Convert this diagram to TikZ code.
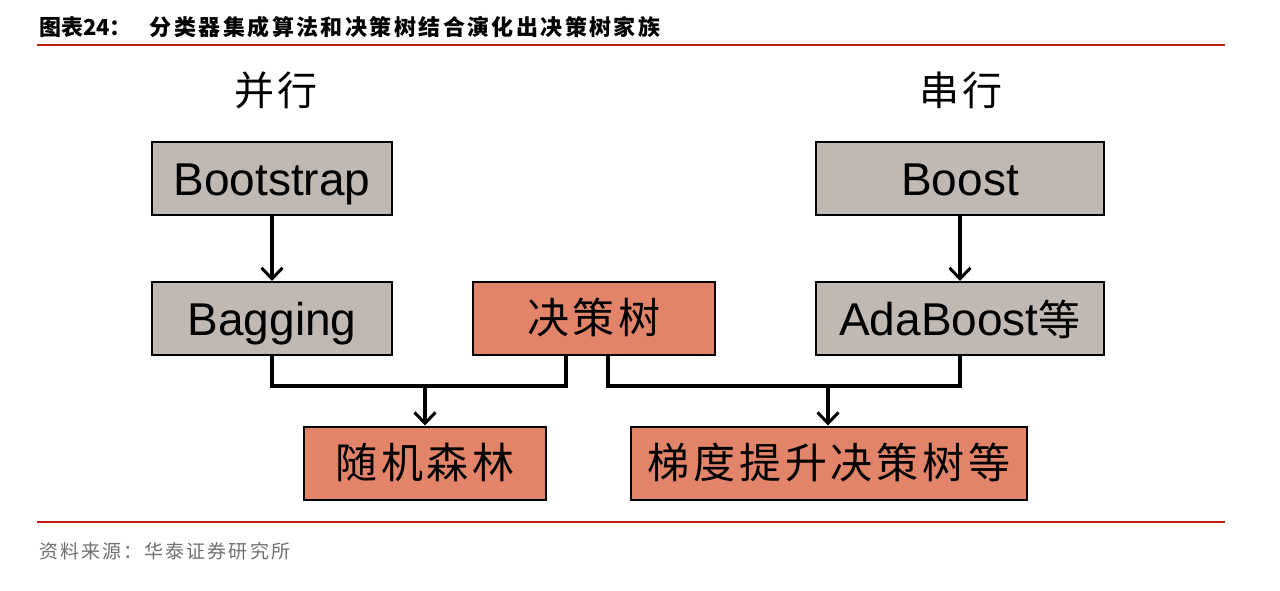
\documentclass[tikz,border=0pt]{standalone}
\usepackage{fontspec}
\setmainfont{Liberation Sans}
\newfontfamily\cjk{Noto Sans CJK SC}
\newfontfamily\cjkwide[LetterSpace=9]{Noto Sans CJK SC}
\newfontfamily\cjktitle[LetterSpace=11]{Noto Sans CJK SC}
\usetikzlibrary{arrows.meta}
\definecolor{boxgray}{HTML}{BFB8B3}
\definecolor{boxorange}{HTML}{E1846A}
\definecolor{rulered}{HTML}{C0200F}
\definecolor{srcgray}{HTML}{707070}
\tikzset{
  x=1pt, y=-1pt,
  box/.style={draw=black, line width=2pt, minimum width=#1, minimum height=73pt,
    inner sep=0pt, font=\fontsize{46}{50}\selectfont, text height=33pt, text depth=0pt},
  graybox/.style={box=#1, fill=boxgray},
  orangebox/.style={box=#1, fill=boxorange},
  cjkbox/.style={font=\cjkwide\fontsize{42}{46}\selectfont, text height=32pt, text depth=2pt},
  link/.style={line width=3.2pt, black},
  arr/.style={link, -{Straight Barb[length=11pt, width=21pt, line width=3pt]}},
  head/.style={font=\cjkwide\fontsize{40}{44}\selectfont},
  redrule/.style={rulered, line width=1.6pt},
}
\begin{document}
\begin{tikzpicture}
\useasboundingbox (0,0) rectangle (1280,590);
\fill[white] (0,0) rectangle (1280,590);

% title and rules
\node[anchor=west, inner sep=0pt, font=\cjk\bfseries\fontsize{22}{25}\selectfont] (title) at (39,27)
  {图表24：\hspace{18pt}{\cjktitle 分类器集成算法和决策树结合演化出决策树家族}};
\draw[redrule] (37,45) -- (1225,45);
\draw[redrule] (37,522) -- (1225,522);
\node[anchor=west, inner sep=0pt, text=srcgray, font=\cjktitle\fontsize{19}{22}\selectfont] (source) at (39,551)
  {资料来源：华泰证券研究所};

% column headings
\node[head] (par) at (276,90) {并行};
\node[head] (ser) at (961,90) {串行};

% boxes
\node[graybox=240pt] (bootstrap) at (272,178.5) {Bootstrap};
\node[graybox=240pt] (bagging) at (272,318.5) {Bagging};
\node[orangebox=242pt, cjkbox] (tree) at (594,318.5) {决策树};
\node[graybox=288pt] (boost) at (960,178.5) {Boost};
\node[graybox=288pt] (ada) at (960,318.5) {AdaBoost{\cjk\fontsize{42}{46}\selectfont 等}};
\node[orangebox=242pt, cjkbox] (rf) at (425,463) {随机森林};
\node[orangebox=396pt, cjkbox] (gbdt) at (829,463) {梯度提升决策树等};

% connectors
\coordinate (jl) at (425,386);
\coordinate (jr) at (828,386);
\draw[arr] (bootstrap.south) -- (bagging.north);
\draw[arr] (boost.south) -- (ada.north);
\draw[link] (bagging.south) |- (jl) -| ([xshift=-28pt]tree.south);
\draw[link] ([xshift=14pt]tree.south) |- (jr) -| (ada.south);
\draw[arr] (jl) -- (rf.north);
\draw[arr] (jr) -- (gbdt.north -| jr);
\end{tikzpicture}
\end{document}
